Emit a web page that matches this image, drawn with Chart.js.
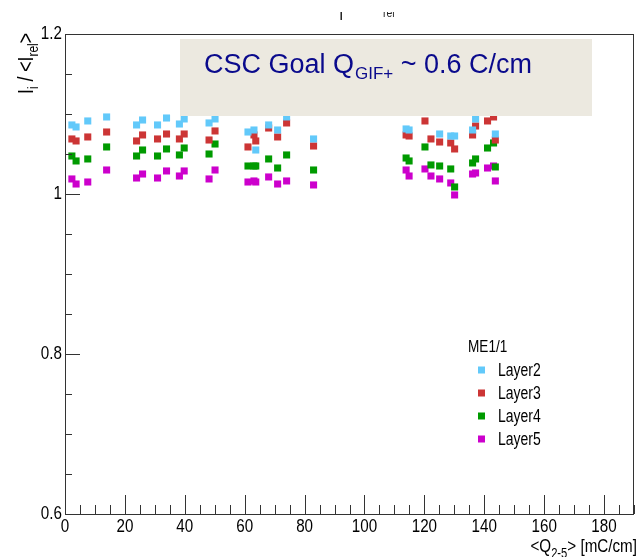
<!DOCTYPE html>
<html>
<head>
<meta charset="utf-8">
<script src="https://cdn.jsdelivr.net/npm/chart.js@4"></script>
<style>
html,body{margin:0;padding:0;background:#fff;}
#wrap{width:639px;height:557px;position:relative;}
</style>
</head>
<body>
<div id="wrap"><canvas id="c" width="639" height="557"></canvas></div>
<script>
// ---- data ----
const charge = [2.3, 3.7, 7.6, 13.9, 23.9, 25.9, 30.9, 33.9, 38.2, 39.8, 48.1, 50.1, 61.1, 63.1, 63.7, 68.0, 71.0, 74.0, 83.0, 113.9, 114.9, 120.2, 122.2, 125.1, 128.8, 130.1, 136.1, 137.1, 141.1, 143.1, 143.7];
const layer2 = [1.0863, 1.0838, 1.0913, 1.0963, 1.0863, 1.0925, 1.0863, 1.095, 1.0875, 1.0938, 1.0888, 1.0938, 1.0775, 1.08, 1.055, 1.0863, 1.08, 1.0963, 1.0688, 1.0813, 1.08, 1.105, 1.1025, 1.075, 1.0725, 1.0725, 1.08, 1.0938, 1.1025, 1.105, 1.075];
const layer3 = [1.0688, 1.0663, 1.0713, 1.0775, 1.0663, 1.0738, 1.0688, 1.075, 1.0688, 1.075, 1.0675, 1.0788, 1.0588, 1.0738, 1.0663, 1.0825, 1.0713, 1.0888, 1.06, 1.0738, 1.0725, 1.0913, 1.0688, 1.065, 1.0638, 1.0563, 1.0738, 1.085, 1.0913, 1.0963, 1.0675];
const layer4 = [1.0475, 1.0413, 1.0438, 1.0588, 1.0475, 1.055, 1.0475, 1.0563, 1.0488, 1.0575, 1.05, 1.0625, 1.035, 1.035, 1.035, 1.0438, 1.0325, 1.0488, 1.03, 1.045, 1.0413, 1.0588, 1.0363, 1.035, 1.0313, 1.0088, 1.0388, 1.0438, 1.0575, 1.0638, 1.0338];
const layer5 = [1.0188, 1.0125, 1.015, 1.03, 1.02, 1.025, 1.02, 1.0288, 1.0225, 1.0288, 1.0188, 1.03, 1.015, 1.0163, 1.015, 1.0213, 1.0125, 1.0163, 1.0113, 1.03, 1.0225, 1.0313, 1.0225, 1.0188, 1.0138, 0.9988, 1.025, 1.0263, 1.0325, 1.035, 1.0163];
const seriesNames = ['Layer2', 'Layer3', 'Layer4', 'Layer5'];
const xTicks = [0, 20, 40, 60, 80, 100, 120, 140, 160, 180];
const xTickLabels = ['0', '20', '40', '60', '80', '100', '120', '140', '160', '180'];
const yTicks = [0.6, 0.8, 1.0, 1.2];
const yTickLabels = ['0.6', '0.8', '1', '1.2'];
const legendHeader = 'ME1/1';
const boxText = ['CSC Goal Q', 'GIF+', ' ~ 0.6 C/cm'];

// ---- styles ----
const colors = ['#62c9fa', '#cc3535', '#009a00', '#cc00cc'];
const FONT = '"Liberation Sans", Arial, sans-serif';
const SQ = 0.8; // horizontal squeeze of the ROOT-style text

const allSeries = [layer2, layer3, layer4, layer5];
const datasets = allSeries.map((vals, k) => ({
  label: seriesNames[k],
  data: charge.map((x, i) => ({x: x, y: vals[i]})),
  backgroundColor: colors[k],
  borderColor: colors[k],
  borderWidth: 0,
  pointStyle: 'rect',
  pointRadius: 5,
  pointHoverRadius: 5
}));

// draw horizontally squeezed text; align: 'left' | 'center' | 'right'
function nText(ctx, str, x, y, size, align, base) {
  ctx.save();
  ctx.font = size + 'px ' + FONT;
  ctx.textBaseline = base || 'alphabetic';
  const w = ctx.measureText(str).width * SQ;
  let x0 = x;
  if (align === 'center') x0 = x - w / 2;
  else if (align === 'right') x0 = x - w;
  ctx.translate(x0, y);
  ctx.scale(SQ, 1);
  ctx.textAlign = 'left';
  ctx.fillText(str, 0, 0);
  ctx.restore();
  return w;
}
function nWidth(ctx, str, size) {
  ctx.save();
  ctx.font = size + 'px ' + FONT;
  const w = ctx.measureText(str).width * SQ;
  ctx.restore();
  return w;
}

const decor = {
  id: 'decor',
  afterDatasetsDraw(chart) {
    const ctx = chart.ctx;
    // overlay box
    ctx.save();
    ctx.fillStyle = '#ece9e0';
    ctx.fillRect(180, 39, 412, 77);
    ctx.fillStyle = '#0a0a8c';
    ctx.textBaseline = 'alphabetic';
    ctx.textAlign = 'left';
    let x = 204;
    ctx.font = '27px ' + FONT;
    ctx.fillText(boxText[0], x, 73);
    x += ctx.measureText(boxText[0]).width + 1;
    ctx.font = '17px ' + FONT;
    ctx.fillText(boxText[1], x, 79);
    x += ctx.measureText(boxText[1]).width;
    ctx.font = '27px ' + FONT;
    ctx.fillText(boxText[2], x, 73);
    ctx.restore();
  },
  afterDraw(chart) {
    const ctx = chart.ctx;
    const a = chart.chartArea;
    const xs = chart.scales.x, ys = chart.scales.y;
    ctx.save();
    // frame
    ctx.strokeStyle = '#333';
    ctx.lineWidth = 1;
    ctx.strokeRect(Math.round(a.left) + 0.5, Math.round(a.top) + 0.5, Math.round(a.right - a.left) - 1, Math.round(a.bottom - a.top));
    // x ticks
    ctx.beginPath();
    for (let v = 0; v <= 190; v += 5) {
      const px = Math.round(xs.getPixelForValue(v)) + 0.5;
      const len = (v % 20 === 0) ? 19 : 9;
      ctx.moveTo(px, a.bottom);
      ctx.lineTo(px, a.bottom - len);
    }
    // y ticks
    for (let k = 0; k <= 12; k++) {
      const v = 0.6 + k * 0.05;
      const py = Math.round(ys.getPixelForValue(v)) + 0.5;
      const len = (k % 4 === 0) ? 15 : 7;
      ctx.moveTo(a.left, py);
      ctx.lineTo(a.left + len, py);
    }
    ctx.stroke();

    ctx.fillStyle = '#000';
    // tick labels
    xTicks.forEach((v, i) => nText(ctx, xTickLabels[i], xs.getPixelForValue(v), a.bottom + 3, 19, 'center', 'top'));
    yTicks.forEach((v, i) => nText(ctx, yTickLabels[i], a.left - 3, ys.getPixelForValue(v), 19, 'right', 'middle'));

    // x axis title
    const t1 = '<Q', t2 = '2-5', t3 = '> [mC/cm]';
    const w1 = nWidth(ctx, t1, 19), w2 = nWidth(ctx, t2, 14), w3 = nWidth(ctx, t3, 19);
    let x0 = 637 - (w1 + w2 + w3);
    nText(ctx, t1, x0, 552, 19, 'left');
    nText(ctx, t2, x0 + w1, 558, 14, 'left');
    nText(ctx, t3, x0 + w1 + w2, 552, 19, 'left');

    // y axis title (rotated)
    ctx.save();
    ctx.translate(33, 33);
    ctx.rotate(-Math.PI / 2);
    const parts = [['I', 22, 0], ['i', 15, 5], [' / <I', 22, 0], ['rel', 15, 5], ['>', 22, 0]];
    let tw = 0;
    parts.forEach(p => { p.push(nWidth(ctx, p[0], p[1])); tw += p[3]; });
    let cx = -tw;
    parts.forEach(p => { nText(ctx, p[0], cx, p[2], p[1], 'left'); cx += p[3]; });
    ctx.restore();

    // clipped title fragments at top
    ctx.save();
    ctx.beginPath();
    ctx.rect(300, 12, 140, 10);
    ctx.clip();
    ctx.fillStyle = '#222';
    nText(ctx, 'I', 339, 20, 20, 'left');
    nText(ctx, 'rel', 383, 16.5, 13, 'left');
    ctx.restore();

    // legend
    ctx.fillStyle = '#000';
    nText(ctx, legendHeader, 468, 347, 17, 'left', 'middle');
    const ly = [370, 393, 416, 439];
    chart.data.datasets.forEach((d, k) => {
      ctx.fillStyle = d.backgroundColor;
      ctx.fillRect(478, ly[k] - 3.5, 7, 7);
      ctx.fillStyle = '#000';
      nText(ctx, d.label, 498, ly[k] + 1, 17.5, 'left', 'middle');
    });
    ctx.restore();
  }
};

new Chart(document.getElementById('c'), {
  type: 'scatter',
  data: {datasets: datasets},
  options: {
    responsive: false,
    animation: false,
    events: [],
    layout: {padding: {top: 34, right: 2, left: 0, bottom: 0}},
    plugins: {legend: {display: false}, tooltip: {enabled: false}, title: {display: false}},
    scales: {
      x: {
        type: 'linear', min: 0, max: 190,
        afterBuildTicks: s => { s.ticks = xTicks.map(v => ({value: v})); },
        afterFit: s => { s.height = 43; },
        grid: {display: false, drawTicks: false},
        border: {display: false},
        ticks: {display: false}
      },
      y: {
        type: 'linear', min: 0.6, max: 1.2,
        afterBuildTicks: s => { s.ticks = yTicks.map(v => ({value: v})); },
        afterFit: s => { s.width = 65; },
        grid: {display: false, drawTicks: false},
        border: {display: false},
        ticks: {display: false}
      }
    }
  },
  plugins: [decor]
});
</script>
</body>
</html>
